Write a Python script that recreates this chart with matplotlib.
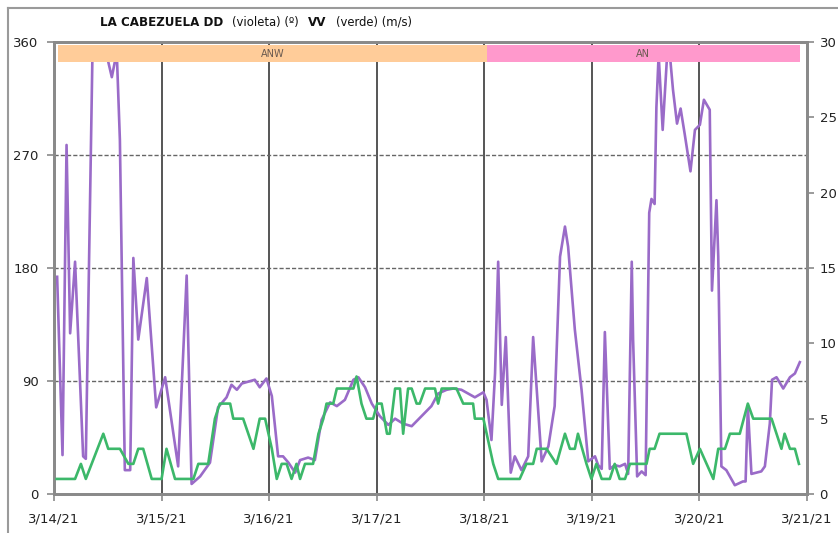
import matplotlib
matplotlib.use("Agg")
import matplotlib.pyplot as plt
from matplotlib.patches import Rectangle
from matplotlib.lines import Line2D

# ---- data (hours since 3/14/21 00:00) ----
dd_hours = [0.7, 1.9, 2.8, 3.6, 4.7, 6.5, 7.1, 8.6, 11.4, 12.9, 14.0, 14.7, 15.8, 17.0,
            17.7, 18.8, 20.7, 22.8, 24.8, 27.7, 29.6, 30.7, 32.6, 34.8, 36.6, 38.5,
            39.6, 40.8, 41.9, 44.8, 45.9, 47.4, 48.6, 50.0, 51.1, 52.3, 53.8, 54.9,
            56.7, 58.2, 59.7, 61.6, 63.1, 64.9, 66.8, 67.9, 69.4, 70.9, 72.7, 74.6,
            76.1, 77.9, 79.8, 82.0, 84.2, 85.7, 87.6, 89.1, 90.9, 93.9, 95.8, 96.5,
            97.6, 98.4, 99.1, 99.9, 100.8, 101.9, 102.8, 104.3, 105.8, 106.9, 108.8,
            110.3, 111.7, 112.9, 114.0, 114.7, 116.2, 117.7, 119.2, 120.7, 121.4,
            122.2, 122.9, 124.0, 125.1, 126.2, 127.4, 128.1, 128.9, 129.2, 130.1,
            131.1, 132.0, 132.8, 133.3, 134.0, 134.4, 134.9, 135.8, 136.8, 137.4,
            138.1, 139.0, 139.8, 140.7, 142.0, 143.0, 144.1, 145.0, 146.3, 146.8,
            147.8, 148.2, 148.9, 150.0, 151.9, 153.7, 154.3, 154.8, 155.6, 157.8,
            158.6, 159.7, 160.2, 161.2, 162.7, 164.2, 165.3, 166.4]
dd_values = [173, 31, 278, 128, 185, 30, 28, 355, 355, 332, 352, 282, 19, 19,
             188, 123, 172, 69, 93, 22, 174, 8, 14, 25, 69, 77,
             87, 83, 88, 91, 85, 92, 78, 30, 30, 25, 17, 27,
             29, 27, 59, 73, 70, 75, 91, 93, 85, 72, 62, 55,
             60, 56, 54, 62, 70, 80, 83, 84, 83, 77, 81, 75,
             43, 96, 185, 71, 125, 17, 30, 19, 30, 125, 26,
             38, 70, 189, 213, 197, 131, 83, 26, 30, 23,
             20, 129, 20, 23, 22, 24, 16, 185, 123, 14,
             18, 15, 224, 235, 231, 308, 350, 290, 350, 350,
             322, 295, 307, 287, 257, 290, 294, 314, 306, 162,
             234, 189, 22, 19, 7, 10, 10, 70, 16, 18,
             22, 56, 91, 93, 84, 93, 96, 105]

vv_hours = [0.6, 4.7, 6.0, 7.1, 11.0, 12.1, 14.7, 16.6, 17.7, 18.8, 19.9, 21.8, 24.0,
            25.1, 27.0, 31.1, 32.2, 34.4, 35.9, 37.0, 39.3, 40.0, 42.2, 44.5, 45.9,
            47.1, 48.6, 49.7, 50.8, 51.9, 53.0, 54.1, 54.9, 56.0, 57.8, 59.0, 60.1,
            60.8, 62.3, 63.1, 65.3, 66.8, 67.5, 68.6, 69.7, 71.2, 72.1, 73.1, 74.3,
            74.9, 76.1, 77.2, 77.9, 79.0, 79.8, 80.9, 81.6, 82.8, 85.0, 85.7, 86.5,
            89.8, 91.3, 93.5, 93.9, 95.8, 98.0, 99.1, 103.9, 105.4, 106.9, 107.7,
            109.9, 112.1, 114.0, 115.1, 116.2, 116.9, 118.8, 119.9, 121.0, 122.2,
            124.0, 125.1, 126.2, 127.4, 128.5, 132.2, 132.9, 134.0, 135.1, 141.1,
            142.6, 144.1, 145.6, 147.1, 148.2, 149.7, 150.8, 153.0, 154.8, 156.0,
            160.1, 162.3, 163.0, 164.2, 165.3, 166.2]
vv_values = [1, 1, 2, 1, 4, 3, 3, 2, 2, 3, 3, 1, 1,
             3, 1, 1, 2, 2, 5, 6, 6, 5, 5, 3, 5,
             5, 3, 1, 2, 2, 1, 2, 1, 2, 2, 4, 5,
             6, 6, 7, 7, 7, 7.8, 6, 5, 5, 6, 6, 4,
             4, 7, 7, 4, 7, 7, 6, 6, 7, 7, 6, 7,
             7, 6, 6, 5, 5, 2, 1, 1, 2, 2, 3,
             3, 2, 4, 3, 3, 4, 2, 1, 2, 1,
             1, 2, 1, 1, 2, 2, 3, 3, 4, 4,
             2, 3, 2, 1, 3, 3, 4, 4, 6, 5,
             5, 3, 4, 3, 3, 2]

band_labels = ["ANW", "AN"]
band_start = [0.9, 96.6]
band_end = [96.6, 166.4]
band_colors = ["#ffcc99", "#ff99cc"]

day_ticks = [0, 24, 48, 72, 96, 120, 144, 168]
day_labels = ["3/14/21", "3/15/21", "3/16/21", "3/17/21", "3/18/21", "3/19/21",
              "3/20/21", "3/21/21"]
dd_ticks = [0, 90, 180, 270, 360]
vv_ticks = [0, 5, 10, 15, 20, 25, 30]

title_parts = [("LA CABEZUELA DD", "bold"), ("(violeta) (º)", "normal"),
               ("VV", "bold"), ("(verde) (m/s)", "normal")]

# ---- figure ----
fig = plt.figure(figsize=(8.38, 5.33), dpi=100)
W, H = 838, 533
ax = fig.add_axes([54 / W, (H - 494) / H, (807 - 54) / W, (494 - 42) / H])
ax2 = ax.twinx()

purple = "#9a6bc8"
green = "#3cb86a"
grid_dark = "#555555"
spine_col = "#8a8a8a"

ax.plot(dd_hours, dd_values, color=purple, lw=1.9, zorder=3, solid_joinstyle="round")
ax2.plot(vv_hours, vv_values, color=green, lw=1.9, zorder=3, solid_joinstyle="round")

ax.set_xlim(0, 168)
ax.set_ylim(0, 360)
ax2.set_ylim(0, 30)

# grid
for t in day_ticks[1:-1]:
    ax.axvline(t, color=grid_dark, lw=1.4, zorder=1)
for v in dd_ticks[1:-1]:
    ax.axhline(v, color="#666666", lw=1.0, ls=(0, (3, 1.5)), zorder=1)

# bands (top layer)
for lab, s, e, c in zip(band_labels, band_start, band_end, band_colors):
    r = Rectangle((s, 344), e - s, 13.5, facecolor=c, edgecolor="none",
                  transform=ax.transData, zorder=10)
    ax2.add_patch(r)
    ax2.text((s + e) / 2, 350.5, lab, transform=ax.transData, ha="center",
             va="center", fontsize=7, color="#6a5a50", zorder=11)

ax.set_xticks(day_ticks)
ax.set_xticklabels(day_labels)
ax.set_yticks(dd_ticks)
ax2.set_yticks(vv_ticks)

for a in (ax, ax2):
    for sp in a.spines.values():
        sp.set_color(spine_col)
        sp.set_linewidth(2)
    a.tick_params(colors=spine_col, length=5, width=1.2, direction="out",
                  labelcolor="#222222", labelsize=9.5)
ax.tick_params(axis="y", pad=6)
ax2.tick_params(axis="y", pad=4)
ax.tick_params(axis="x", pad=8)
ax.set_facecolor("white")

# title pieces placed one after another
fig.canvas.draw()
renderer = fig.canvas.get_renderer()
ty = 1 - 22 / H
xpix = 100
for txt, wt in title_parts:
    size = 8.6 if wt == "bold" else 8.4
    t = fig.text(xpix / W, ty, txt, fontsize=size, fontweight=wt, va="center",
                 ha="left", color="#111111")
    bb = t.get_window_extent(renderer=renderer)
    xpix = xpix + bb.width + 9

# outer frame (left / top)
fig.add_artist(Line2D([8 / W, 8 / W], [0, 1 - 8 / H], color="#9a9a9a", lw=1.5,
                      transform=fig.transFigure))
fig.add_artist(Line2D([8 / W, 1], [1 - 8 / H, 1 - 8 / H], color="#9a9a9a", lw=1.5,
                      transform=fig.transFigure))

fig.savefig("out.png", dpi=100, facecolor="white")
